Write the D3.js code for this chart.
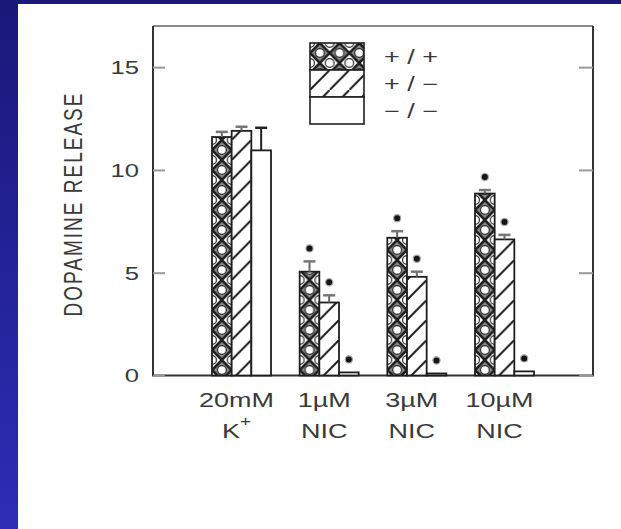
<!DOCTYPE html>
<html>
<head>
<meta charset="utf-8">
<script src="https://cdn.jsdelivr.net/npm/d3@7"></script>
<style>
  body { margin: 0; background: #fff; }
  svg { display: block; }
  text { font-family: "Liberation Sans", Arial, sans-serif; fill: #3a3a3a; }
</style>
</head>
<body>
<div id="chart"></div>
<script>
// data
var categories = ["20mM", "1\u00b5M", "3\u00b5M", "10\u00b5M"];
var catSub = ["K", "NIC", "NIC", "NIC"];
var series = ["+/+", "+/\u2212", "\u2212/\u2212"];
var seriesLabels = ["+ / +", "+ / \u2212", "\u2212 / \u2212"];
var wtVals = [11.6, 5.05, 6.7, 8.85];
var wtErr = [0.25, 0.5, 0.32, 0.17];
var hetVals = [11.9, 3.55, 4.8, 6.62];
var hetErr = [0.2, 0.35, 0.25, 0.22];
var koVals = [10.95, 0.15, 0.1, 0.2];
var koErr = [1.1, 0, 0, 0];
var starred = [false, true, true, true];
var yTicks = [0, 5, 10, 15];

var W = 621, H = 529;
var frame = {left: 153, right: 593, top: 26, bottom: 375.5};
var sx = 1.35; // the scan is stretched sideways

var svg = d3.select("#chart").append("svg")
    .attr("width", W)
    .attr("height", H);

var defs = svg.append("defs");
var grad = defs.append("linearGradient")
    .attr("id", "bg")
    .attr("x1", 0).attr("y1", 0).attr("x2", 0).attr("y2", 1);
grad.append("stop").attr("offset", 0).attr("stop-color", "#1a1878");
grad.append("stop").attr("offset", 1).attr("stop-color", "#2d2db6");

svg.append("rect").attr("width", W).attr("height", H).attr("fill", "url(#bg)");
svg.append("rect").attr("x", 18).attr("y", 4)
    .attr("width", W - 18).attr("height", H - 4).attr("fill", "#fff");

var y = d3.scaleLinear().domain([0, 17]).range([frame.bottom, frame.top]);

var x0 = d3.scaleBand().domain(categories)
    .range([frame.left, frame.right])
    .paddingInner(0.327)
    .paddingOuter(0.673);

var x1 = d3.scaleBand().domain(series)
    .range([0, x0.bandwidth()]);

var bw = x1.bandwidth();

// hatch patterns, in the user space of each bar group
var pCirc = defs.append("pattern")
    .attr("id", "pCirc")
    .attr("patternUnits", "userSpaceOnUse")
    .attr("width", bw).attr("height", 20);
pCirc.append("rect").attr("width", bw).attr("height", 20).attr("fill", "#fff");
pCirc.append("path")
    .attr("d", "M" + bw/2 + ",0L" + bw + ",10L" + bw/2 + ",20L0,10Z")
    .attr("fill", "#8a8a8a")
    .attr("stroke", "#1e1e1e")
    .attr("stroke-width", 2.6);
[[bw/2, 10], [0, 0], [bw, 0], [0, 20], [bw, 20]].forEach(function(c) {
  pCirc.append("circle")
      .attr("cx", c[0]).attr("cy", c[1]).attr("r", 4.4)
      .attr("fill", "#fff")
      .attr("stroke", "#2a2a2a")
      .attr("stroke-width", 1.2);
});

var pDiag = defs.append("pattern")
    .attr("id", "pDiag")
    .attr("patternUnits", "userSpaceOnUse")
    .attr("width", bw).attr("height", 20);
pDiag.append("rect").attr("width", bw).attr("height", 20).attr("fill", "#fff");
pDiag.append("line")
    .attr("x1", 0).attr("y1", 20).attr("x2", bw).attr("y2", 0)
    .attr("stroke", "#1e1e1e").attr("stroke-width", 2);

var fills = ["url(#pCirc)", "url(#pDiag)", "#fff"];

// table built from the arrays
var table = categories.map(function(c, i) {
  return {
    cat: c, sub: catSub[i],
    bars: [
      {s: series[0], v: wtVals[i], e: wtErr[i], star: starred[i], k: 0},
      {s: series[1], v: hetVals[i], e: hetErr[i], star: starred[i], k: 1},
      {s: series[2], v: koVals[i], e: koErr[i], star: starred[i], k: 2}
    ]
  };
});

// frame
var fr = svg.append("g").attr("class", "frame");
fr.append("line").attr("x1", frame.left).attr("x2", frame.right)
    .attr("y1", frame.top).attr("y2", frame.top)
    .attr("stroke", "#8a8a8a").attr("stroke-width", 2);
fr.append("path")
    .attr("d", "M" + frame.left + "," + frame.top + "V" + frame.bottom +
               "H" + frame.right + "V" + frame.top)
    .attr("fill", "none").attr("stroke", "#333").attr("stroke-width", 2);

// left axis, ticks pointing in
var yAxis = svg.append("g")
    .attr("transform", "translate(" + frame.left + ",0)")
    .call(d3.axisLeft(y).tickValues(yTicks).tickSizeInner(-12).tickSizeOuter(0).tickPadding(14));
yAxis.select(".domain").remove();
yAxis.selectAll(".tick line").attr("stroke", "#999").attr("stroke-width", 2);
yAxis.selectAll(".tick text")
    .attr("x", null).attr("dy", "0.34em")
    .attr("transform", "translate(-14,0) scale(" + sx + ",1)")
    .style("font-size", "19px")
    .style("font-family", "Liberation Sans, Arial, sans-serif")
    .attr("fill", "#444");

var yAxisR = svg.append("g")
    .attr("transform", "translate(" + frame.right + ",0)")
    .call(d3.axisRight(y).tickValues(yTicks).tickSizeInner(-14).tickSizeOuter(0).tickFormat(""));
yAxisR.select(".domain").remove();
yAxisR.selectAll(".tick line").attr("stroke", "#999").attr("stroke-width", 2);

// bars
var groups = svg.selectAll("g.grp")
    .data(table)
  .enter().append("g")
    .attr("class", "grp")
    .attr("transform", function(d) { return "translate(" + x0(d.cat) + ",0)"; });

var bar = groups.selectAll("g.bar")
    .data(function(d) { return d.bars; })
  .enter().append("g")
    .attr("class", "bar")
    .attr("transform", function(d) { return "translate(" + x1(d.s) + ",0)"; });

bar.append("rect")
    .attr("x", 0)
    .attr("y", function(d) { return y(d.v); })
    .attr("width", bw)
    .attr("height", function(d) { return y(0) - y(d.v); })
    .attr("fill", function(d) { return fills[d.k]; })
    .attr("stroke", "#1e1e1e")
    .attr("stroke-width", 1.8);

// error bars
var eb = bar.filter(function(d) { return d.e > 0; });
eb.append("line")
    .attr("x1", bw/2).attr("x2", bw/2)
    .attr("y1", function(d) { return y(d.v); })
    .attr("y2", function(d) { return y(d.v + d.e); })
    .attr("stroke", function(d) { return d.e > 0.6 ? "#222" : "#666"; })
    .attr("stroke-width", 2);
eb.append("line")
    .attr("x1", bw/2 - 6).attr("x2", bw/2 + 6)
    .attr("y1", function(d) { return y(d.v + d.e); })
    .attr("y2", function(d) { return y(d.v + d.e); })
    .attr("stroke", function(d) { return d.e > 0.6 ? "#222" : "#777"; })
    .attr("stroke-width", 2.5);

// significance marks
bar.filter(function(d) { return d.star; })
  .append("circle")
    .attr("cx", bw/2)
    .attr("cy", function(d) { return y(d.v + d.e) - 13; })
    .attr("r", 3.6)
    .attr("fill", "#151515")
    .attr("stroke", "#aaa")
    .attr("stroke-width", 1.2);

// category labels
groups.append("text")
    .attr("transform", function() { return "translate(" + (x0.bandwidth()/2 - 5) + ",407) scale(" + sx + ",1)"; })
    .attr("text-anchor", "middle")
    .style("font-size", "20px")
    .text(function(d) { return d.cat; });

var sub = groups.append("text")
    .attr("transform", function() { return "translate(" + (x0.bandwidth()/2 - 5) + ",438) scale(" + sx + ",1)"; })
    .attr("text-anchor", "middle")
    .style("font-size", "20px");
sub.append("tspan").text(function(d) { return d.sub; });
sub.filter(function(d, i) { return i === 0; })
  .append("tspan")
    .attr("dy", -12)
    .style("font-size", "14px")
    .text("+");

// y title
svg.append("text")
    .attr("transform", "translate(82,204) scale(" + sx + ",1) rotate(-90)")
    .attr("text-anchor", "middle")
    .style("font-size", "19px")
    .style("letter-spacing", "2px")
    .attr("fill", "#555")
    .text("DOPAMINE RELEASE");

// legend
var lg = svg.append("g").attr("class", "legend")
    .attr("transform", "translate(310,43)");
var rowH = 27;
var lgRow = lg.selectAll("g.row")
    .data(series)
  .enter().append("g")
    .attr("class", "row")
    .attr("transform", function(d, i) { return "translate(0," + (i * rowH) + ")"; });
lgRow.append("rect")
    .attr("width", 54).attr("height", rowH)
    .attr("fill", function(d, i) { return fills[i]; })
    .attr("stroke", "#1e1e1e")
    .attr("stroke-width", 1.6);
lgRow.append("text")
    .attr("transform", "translate(74," + (rowH/2 + 7) + ") scale(" + sx + ",1)")
    .style("font-size", "20px")
    .attr("fill", "#444")
    .text(function(d, i) { return seriesLabels[i]; });
</script>
</body>
</html>
